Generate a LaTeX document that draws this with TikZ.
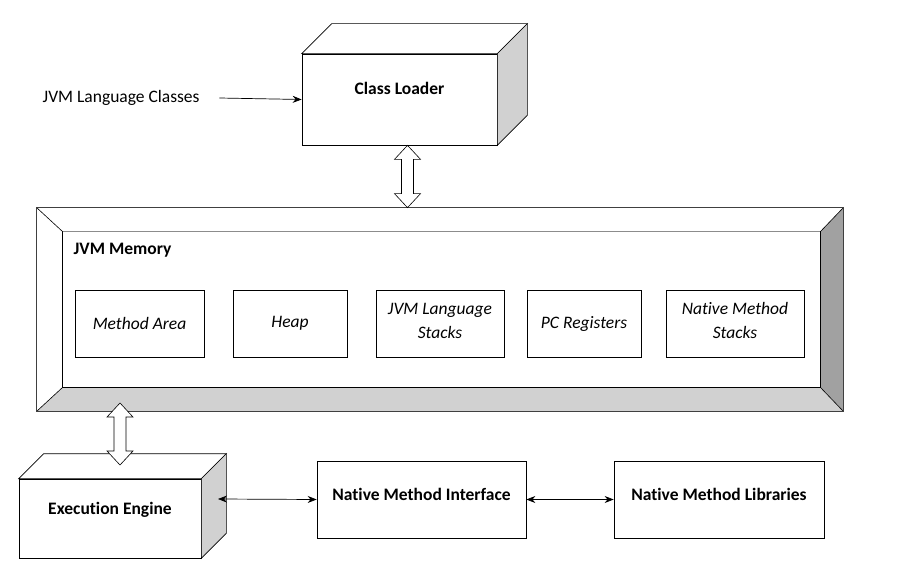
\documentclass[tikz,border=0pt]{standalone}
\usepackage{fontspec}
\setmainfont{Carlito}[Ligatures=NoCommon]
\usetikzlibrary{arrows.meta,calc}

% top and side face of a box drawn in perspective
\newcommand{\cubefaces}[2]{%
  \draw[fill=white] (#1.north west) -- ++(#2,-#2) -- ([shift={(#2,-#2)}]#1.north east) -- (#1.north east) -- cycle;
  \draw[fill=black!18] (#1.north east) -- ([shift={(#2,-#2)}]#1.north east) -- ([shift={(#2,-#2)}]#1.south east) -- (#1.south east) -- cycle;}

% hollow two-headed block arrow, top tip to bottom tip
\newcommand{\hollowarrow}[2]{%
  \draw[fill=white,line width=0.6pt] let \p1=(#1), \p2=(#2) in
    (\x1,\y1) -- (\x1+13pt,\y1-14pt) -- (\x1+6pt,\y1-14pt) -- (\x1+6pt,\y2+14pt)
    -- (\x1+13pt,\y2+14pt) -- (\x1,\y2) -- (\x1-13pt,\y2+14pt) -- (\x1-6pt,\y2+14pt)
    -- (\x1-6pt,\y1-14pt) -- (\x1-13pt,\y1-14pt) -- cycle;}

\begin{document}
\begin{tikzpicture}[x=1pt,y=-1pt,line width=0.7pt,
    every node/.style={font=\fontsize{17.5}{24}\selectfont},
    face/.style={draw,fill=white,inner sep=0pt},
    part/.style={face,minimum height=67pt,align=center,font=\fontsize{17.5}{24}\selectfont\itshape},
    tag/.style={font=\fontsize{17.5}{24}\selectfont\bfseries},
    arr/.style={-{Stealth[length=9pt,width=7pt]}},
    dblarr/.style={{Stealth[length=9pt,width=7pt]}-{Stealth[length=9pt,width=7pt]}}]
  \useasboundingbox (0,0) rectangle (905,577);

  % class loader
  \node[face,minimum width=195pt,minimum height=91pt] (loader) at (399.5,99.5) {};
  \cubefaces{loader}{30}
  \node[tag] (loader-txt) at ([yshift=11.5pt]loader.center) {Class Loader};
  \node[anchor=west] (classes) at (39,98) {JVM Language Classes};
  \draw[arr] ([xshift=16pt]classes.east) -- (loader.west);

  % jvm memory
  \node[fill=white,inner sep=0pt,minimum width=806pt,minimum height=203pt] (mem) at (440,309.5) {};
  \node[inner sep=0pt,minimum width=757pt,minimum height=155pt] (memin) at (441.5,309.5) {};
  \fill[black!37] (mem.north east) -- (mem.south east) -- (memin.south east) -- (memin.north east) -- cycle;
  \fill[black!18] (mem.south west) -- (mem.south east) -- (memin.south east) -- (memin.south west) -- cycle;
  \draw[line width=0.6pt] (mem.north west) -- (memin.north west) (mem.north east) -- (memin.north east)
        (mem.south west) -- (memin.south west) (mem.south east) -- (memin.south east);
  \draw[line width=0.6pt] (memin.north west) rectangle (memin.south east);
  \draw[black!45,line width=0.6pt] (memin.north west) -- (memin.north east);
  \draw[black!75,line width=0.6pt] (mem.north west) rectangle (mem.south east);
  \node[tag,anchor=west] (mem-txt) at (70,250) {JVM Memory};

  \node[part,minimum width=129pt] (marea) at (139.5,323.5) {Method Area};
  \node[part,minimum width=114pt] (heap) at (290,323.5) {Heap};
  \node[part,minimum width=128pt] (jstack) at (440,323.5) {JVM Language\\Stacks\rule[-6pt]{0pt}{0pt}};
  \node[part,minimum width=114pt] (pcreg) at (584,323.5) {PC Registers};
  \node[part,minimum width=138pt] (nstack) at (735,323.5) {Native Method\\Stacks\rule[-6pt]{0pt}{0pt}};

  \coordinate (upA) at ([xshift=8pt]loader.south);
  \coordinate (upB) at (upA |- mem.north);
  \hollowarrow{upA}{upB}

  % execution engine and native side
  \node[face,minimum width=182pt,minimum height=79pt] (engine) at (110,518.5) {};
  \cubefaces{engine}{25}
  \node[tag] (engine-txt) at ([yshift=8.5pt]engine.center) {Execution Engine};

  \coordinate (loA) at (120,403);
  \coordinate (loB) at (120,465);
  \hollowarrow{loA}{loB}

  \node[face,minimum width=209pt,minimum height=77pt] (nmi) at (421.5,499.5) {};
  \node[tag] (nmi-txt) at ([yshift=5pt]nmi.center) {Native Method Interface};
  \node[face,minimum width=210pt,minimum height=77pt] (nml) at (719,499.5) {};
  \node[tag] (nml-txt) at ([yshift=5.5pt]nml.center) {Native Method Libraries};

  \coordinate (eeside) at (218,499);
  \draw[dblarr] (eeside) -- (nmi.west);
  \draw[dblarr] (nmi.east) -- (nml.west);
\end{tikzpicture}
\end{document}
